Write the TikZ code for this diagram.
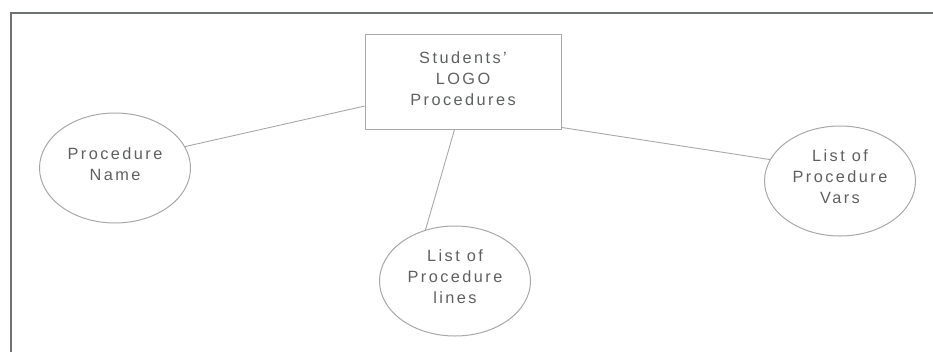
\documentclass[tikz,border=0pt]{standalone}
\usepackage{fontspec}
\setmainfont{Liberation Sans}[LetterSpace=15]
\usepackage{tikz}
\usetikzlibrary{shapes.geometric}
\definecolor{framegray}{HTML}{6E7270}
\definecolor{linegray}{HTML}{A8A8A8}
\definecolor{textgray}{HTML}{5E6060}

\begin{document}
\begin{tikzpicture}[x=1pt, y=-1pt,
                    every node/.style={align=center, text=textgray,
                        font=\fontsize{16.3}{21}\selectfont},
                    topic/.style={rectangle, draw=linegray, line width=1pt,
                        minimum width=196pt, minimum height=95pt, inner sep=0pt,
                        text depth=5pt},
                    part/.style={ellipse, draw=linegray, line width=1pt,
                        minimum width=151pt, minimum height=110pt, inner sep=0pt,
                        text depth=8pt},
                    link/.style={draw=linegray, line width=0.9pt}]
        \useasboundingbox (0,0) rectangle (933,351);
        \draw[framegray, line width=2pt] (11,352) -- (11,13) -- (934,13);

        \node[topic] (logo) at (463,81.5) {Students\char"27\\LOGO\\Procedures};
        \node[part] (pname) at (115,168) {Procedure\\Name};
        \node[part] (plines) at (455,281) {List of\\Procedure\\lines};
        \node[part] (pvars) at (840,181) {List of\\Procedure\\Vars};

        \draw[link] (pname.17) -- (logo.194.6);
        \draw[link] (logo.260.6) -- (plines.120);
        \draw[link] (logo.335.6) -- (pvars.163);
    \end{tikzpicture}
\end{document}
